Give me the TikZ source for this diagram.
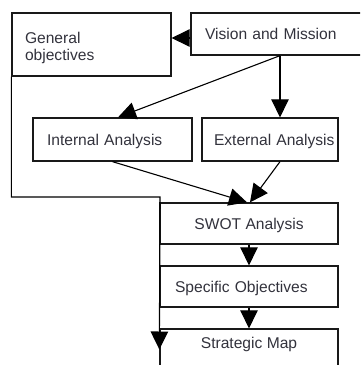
\documentclass[tikz,border=0pt]{standalone}
\usepackage{fontspec}
\setmainfont{Liberation Sans}
\usetikzlibrary{arrows.meta,calc}
\definecolor{txt}{RGB}{50,50,60}
\definecolor{edge}{RGB}{25,25,25}
\begin{document}
\begin{tikzpicture}[x=1pt,y=-1pt,
  box/.style={draw=edge, line width=1.3pt, rectangle, inner ysep=0pt,
    text=txt, font=\fontsize{15.6}{17.5}\selectfont,
    text height=11.2pt, text depth=0pt},
  leftbox/.style={box, align=left},
  arr/.style={draw=black, line width=1.1pt, -{Triangle[length=18pt,width=17.5pt]}}]
\useasboundingbox (0,0) rectangle (360,365);
\clip (0,0) rectangle (360,365);

\node[leftbox, minimum width=159pt, minimum height=63pt, text width=133pt,
  inner xsep=13pt, text depth=13.8pt] (general) at (91.5,44.5) {General\\objectives};
\node[leftbox, minimum width=179pt, minimum height=42pt, text width=151pt,
  inner xsep=14pt] (vision) at (280.5,34) {Vision and Mission};
\node[leftbox, minimum width=159pt, minimum height=43pt, text width=131pt,
  inner xsep=14pt] (internal) at (112.5,139.5) {Internal Analysis};
\node[leftbox, minimum width=136pt, minimum height=43pt, text width=112pt,
  inner xsep=12pt] (external) at (270,139.5) {\mbox{External Analysis}};
\node[box, minimum width=178pt, minimum height=41pt] (swot) at (249,223.5) {SWOT Analysis};
\node[leftbox, minimum width=178pt, minimum height=41pt, text width=148pt,
  inner xsep=15pt] (specific) at (249,286.5) {Specific Objectives};
\node[box, minimum width=178pt, minimum height=41pt, text depth=14pt] (strategic) at (249,349.5) {Strategic Map};

\coordinate (vx) at (280,0);
\coordinate (ix) at (118,0);
\coordinate (bend) at (160,197);

\draw[arr] ($(vision.west)+(0,4)$) -- ($(general.east)+(0,-6.5)$);
\draw[arr] (vision.south -| vx) -- (external.north -| vx);
\draw[arr] (vision.south -| vx) -- (internal.north -| ix);
\draw[arr] (internal.south) -- ($(swot.north)+(-2,0)$);
\draw[arr] (external.south -| vx) -- ($(swot.north)+(1,0)$);
\draw[arr] (swot.south) -- (specific.north);
\draw[arr] (specific.south) -- (strategic.north);
\draw[arr] (general.south west) |- (bend) -- (strategic.west);
\end{tikzpicture}
\end{document}
